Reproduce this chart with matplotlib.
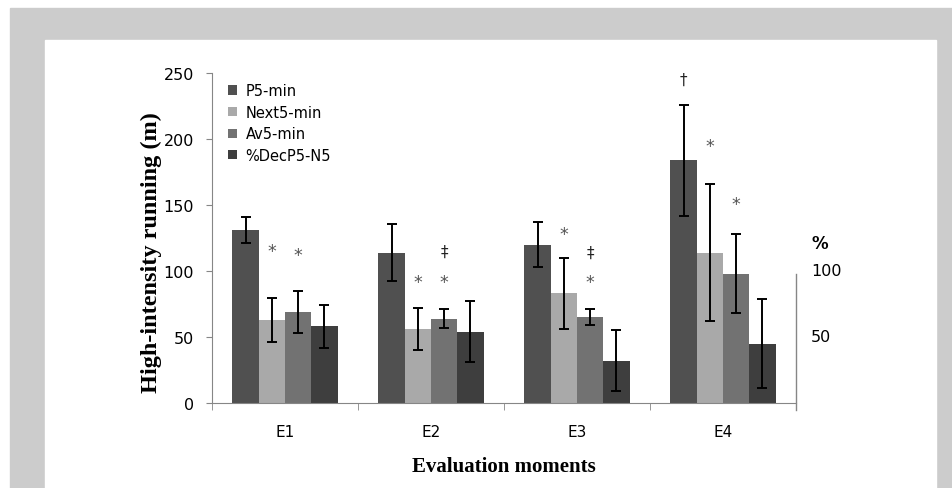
import numpy as np
import matplotlib
matplotlib.use("Agg")
import matplotlib.pyplot as plt
from matplotlib.patches import Rectangle
from matplotlib.transforms import blended_transform_factory

# Datos
momentos = ["E1", "E2", "E3", "E4"]
series = ["P5-min", "Next5-min", "Av5-min", "%DecP5-N5"]
colores = ["#505050", "#a9a9a9", "#727272", "#3e3e3e"]

p5 = [131, 114, 120, 184]
p5_err = [10, 21.5, 17, 42]
next5 = [63, 56, 83, 114]
next5_err = [16.5, 15.6, 27, 52]
av5 = [69, 64, 65, 98]
av5_err = [16, 7, 6, 30]
dec = [58, 54, 32, 45]
dec_err = [16, 23, 23, 34]

valores = [p5, next5, av5, dec]
errores = [p5_err, next5_err, av5_err, dec_err]

# (momento, serie, simbolo, altura)
marcas = [
    (0, 1, "*", 115), (0, 2, "*", 112),
    (1, 1, "*", 92), (1, 2, "*", 92), (1, 2, "‡", 115),
    (2, 1, "*", 128), (2, 2, "*", 92), (2, 2, "‡", 114),
    (3, 0, "†", 245), (3, 1, "*", 195), (3, 2, "*", 151),
]

yticks = [0, 50, 100, 150, 200, 250]
pct_ticks = [50, 100]

fig = plt.figure(figsize=(9.53, 4.89), dpi=100)

# Marco gris alrededor
fig.add_artist(Rectangle((10 / 953, 0), 943 / 953, 1 - 9 / 489,
                         transform=fig.transFigure, color="#cccccc", zorder=-2))
fig.add_artist(Rectangle((45 / 953, 0), (936 - 45) / 953, 1 - 41 / 489,
                         transform=fig.transFigure, color="white", zorder=-1))

ax = fig.add_axes([212 / 953, 1 - 404 / 489, (796 - 212) / 953, (404 - 74) / 489])
ax.set_facecolor("none")

x = np.arange(len(momentos))
ancho = 0.18
desp = [-1.5, -0.5, 0.5, 1.5]
for i in range(4):
    ax.bar(x + desp[i] * ancho, valores[i], ancho, color=colores[i], label=series[i],
           yerr=errores[i], capsize=3.5,
           error_kw=dict(elinewidth=1.4, capthick=1.4, ecolor="black"), zorder=2)

for g, s, sim, h in marcas:
    if sim == "*":
        ax.text(x[g] + desp[s] * ancho, h, sim, ha="center", va="center",
                fontsize=12.5, color="#555555")
    else:
        ax.text(x[g] + desp[s] * ancho, h, sim, ha="center", va="center",
                fontsize=11, color="#222222")

ax.set_xlim(-0.5, 3.5)
ax.set_ylim(0, 250)
ax.set_yticks(yticks)
ax.set_xticks(x)
ax.set_xticklabels(momentos, fontsize=11)
ax.set_xticks(np.arange(-0.5, 4, 1), minor=True)
ax.tick_params(axis="x", which="major", length=0, pad=15)
ax.tick_params(axis="x", which="minor", length=5, color="#868686", direction="out")
ax.tick_params(axis="y", length=4, color="#868686", labelsize=11.5, pad=9)

for lado in ["top", "right"]:
    ax.spines[lado].set_visible(False)
for lado in ["left", "bottom"]:
    ax.spines[lado].set_color("#868686")

# Eje de porcentaje a la derecha
ax.plot([3.5, 3.5], [-5, 98], color="#868686", lw=1, clip_on=False)
trans = blended_transform_factory(fig.transFigure, ax.transData)
for v in pct_ticks:
    ax.text(811 / 953, v, str(v), transform=trans, fontsize=11.5, va="center", ha="left")
ax.text(811 / 953, 1 - 244 / 489, "%", transform=fig.transFigure, fontsize=12,
        fontweight="bold", va="center", ha="left")

ax.set_ylabel("High-intensity running (m)", family="Liberation Serif",
              fontweight="bold", fontsize=17.5)
ax.yaxis.set_label_coords(-0.086, 0.46)
ax.set_xlabel("Evaluation moments", family="Liberation Serif",
              fontweight="bold", fontsize=15, labelpad=12)

ax.legend(loc="upper left", bbox_to_anchor=(0.01, 1.0), frameon=False, fontsize=10.5,
          handlelength=0.6, handleheight=0.6, handletextpad=0.6, labelspacing=0.45,
          borderaxespad=0.3)

plt.savefig("out.png", dpi=100)
